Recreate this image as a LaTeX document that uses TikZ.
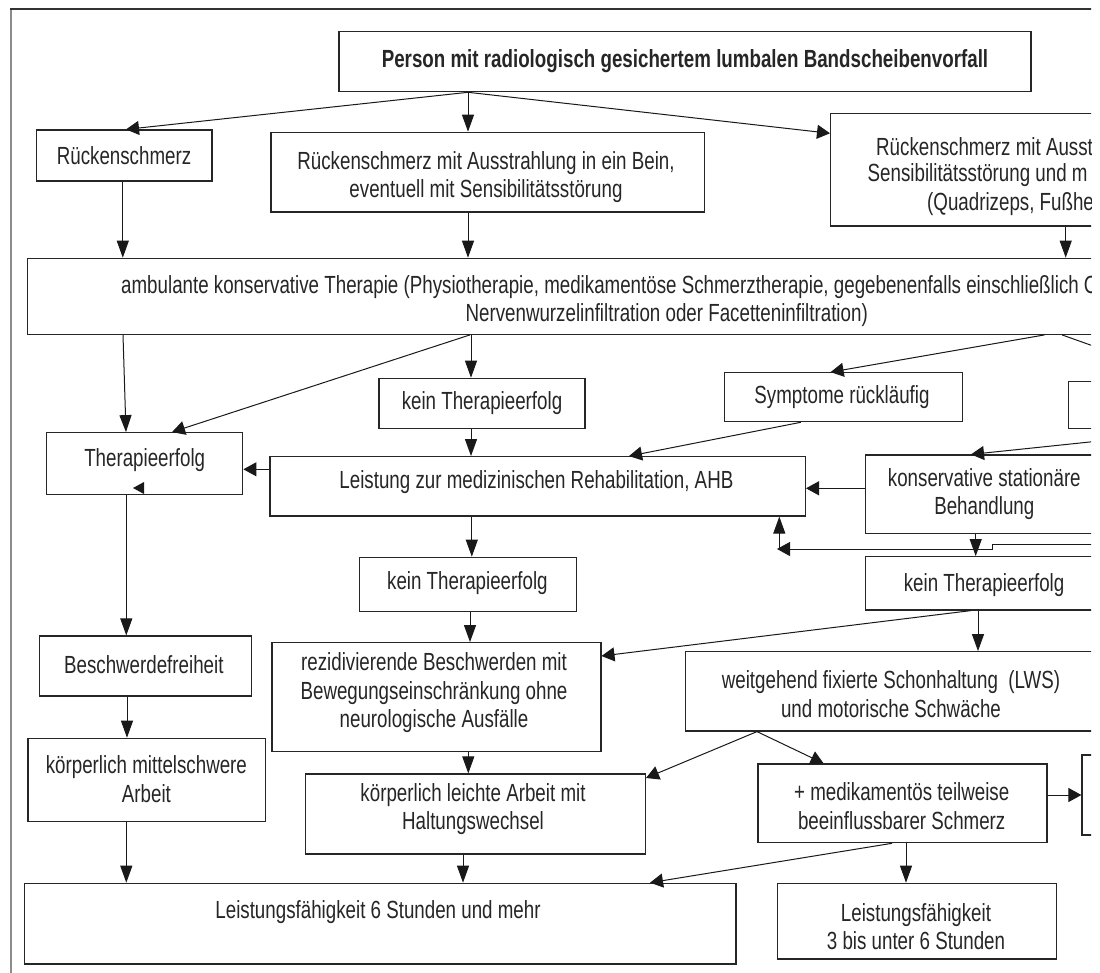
\documentclass[tikz,border=0pt]{standalone}
\usepackage{fontspec}
\setmainfont[FakeStretch=0.756]{Liberation Sans}
\usetikzlibrary{arrows.meta}
\newcommand{\mybox}[5]{\node[box,minimum width={#4-#2},minimum height={#5-#3}] (#1) at ({(#2+#4)/2},{(#3+#5)/2}) {};}
\begin{document}
\begin{tikzpicture}[x=1pt,y=-1pt,
  box/.style={draw=black!85, line width=1.2pt, inner sep=0pt},
  txt/.style={inner sep=0pt, align=center, text=black!85, font=\fontsize{24.8}{28.5}\selectfont},
  conn/.style={draw=black!90, line width=1pt},
  av/.style={conn, -{Triangle[length=17pt,width=12pt]}},
  ah/.style={conn, -{Triangle[length=13pt,width=14pt]}}]
\useasboundingbox (0,0) rectangle (1100,973);
\fill[white] (0,0) rectangle (1100,973);
\begin{scope}
\clip (0,0) rectangle (1091,973);
% frame
\draw[black!45, line width=2.5pt] (11,973) -- (11,9);
\draw[black!80, line width=2pt] (10,9) -- (1100,9);
% boxes
\mybox{title}{339}{31.7}{1031}{91.7}
\mybox{rs}{36.1}{130}{211.9}{181}
\mybox{rsa}{271}{132.3}{704.4}{212}
\mybox{rsr}{830.6}{113.3}{1300}{226}
\mybox{amb}{27.4}{258.3}{1306}{334.3}
\mybox{k1}{378.9}{378.3}{585}{428.3}
\mybox{sym}{724.3}{372.7}{962.2}{421.7}
\mybox{cuta}{1068.5}{381.7}{1300}{428.3}
\mybox{te}{46.7}{432.7}{242.8}{494.3}
\mybox{lz}{270}{456.7}{805.4}{516}
\mybox{ksb}{865.7}{455}{1103}{533.3}
\mybox{km}{359.6}{557.3}{576.3}{611.7}
\mybox{kr}{865.7}{556.7}{1103}{610}
\mybox{bf}{39.6}{636}{251.2}{696}
\mybox{rez}{271.9}{642.7}{600.9}{751.7}
\mybox{wf}{685.8}{651.7}{1096.2}{731}
\mybox{mit}{28}{738.3}{265.2}{821.7}
\mybox{leicht}{305.2}{774}{645.4}{854}
\mybox{med}{758}{764}{1047}{842.7}
\mybox{cutb}{1082}{755}{1300}{835}
\mybox{lsechs}{24.6}{883.3}{736}{964}
\mybox{ldrei}{777.3}{883.3}{1056.2}{959}
% texts
\node[txt,font=\fontsize{24.8}{28.5}\selectfont\bfseries] (title-t) at (685,61) {Person mit radiologisch gesichertem lumbalen Bandscheibenvorfall};
\node[txt] (rs-t) at (124,155.5) {Rückenschmerz};
\node[txt] (rsa-t) at (486,177) {Rückenschmerz mit Ausstrahlung in ein Bein,\\eventuell mit Sensibilitätsstörung};
\node[txt,anchor=west] (rsr-t1) at (876,147) {Rückenschmerz mit Ausst};
\node[txt,anchor=west] (rsr-t2) at (867.5,175.5) {Sensibilitätsstörung und m};
\node[txt,anchor=west] (rsr-t3) at (927,204) {(Quadrizeps, Fußhe};
\node[txt,anchor=west] (amb-t1) at (121,286.7) {ambulante konservative Therapie (Physiotherapie, medikamentöse Schmerztherapie, gegebenenfalls einschließlich C};
\node[txt] (amb-t2) at (666.7,315) {Nervenwurzelinfiltration oder Facetteninfiltration)};
\node[txt] (k1-t) at (482,403.3) {kein Therapieerfolg};
\node[txt] (sym-t) at (842,397) {Symptome rückläufig};
\node[txt] (te-t) at (144.7,460) {Therapieerfolg};
\node[txt] (lz-t) at (536.4,481.7) {Leistung zur medizinischen Rehabilitation, AHB};
\node[txt] (ksb-t) at (984.3,494) {konservative stationäre\\Behandlung};
\node[txt] (km-t) at (467.4,583.3) {kein Therapieerfolg};
\node[txt] (kr-t) at (984.1,585) {kein Therapieerfolg};
\node[txt] (bf-t) at (143.8,665) {Beschwerdefreiheit};
\node[txt] (rez-t) at (434,693) {rezidivierende Beschwerden mit\\Bewegungseinschränkung ohne\\neurologische Ausfälle};
\node[txt] (wf-t) at (891,694) {weitgehend fixierte Schonhaltung\ \ (LWS)\\und motorische Schwäche};
\node[txt] (mit-t) at (146.4,779) {körperlich mittelschwere\\Arbeit};
\node[txt] (leicht-t) at (473,809) {körperlich leichte Arbeit mit\\Haltungswechsel};
\node[txt] (med-t) at (901.7,806) {+ medikamentös teilweise\\beeinflussbarer Schmerz};
\node[txt] (lsechs-t) at (378,912) {Leistungsfähigkeit 6 Stunden und mehr};
\node[txt] (ldrei-t) at (916,926.7) {Leistungsfähigkeit\\3 bis unter 6 Stunden};
% free ends
\coordinate (offA) at (1200,384);
\coordinate (offB) at (1200,430.5);
\coordinate (offC) at (1200,544);
\coordinate (jog1) at (992,544);
\coordinate (jog2) at (992,549);
\coordinate (dbl) at (779.3,549);
% connectors
\draw[ah] (468,0 |- title.south) -- (126,0 |- rs.north);
\draw[av] (468,0 |- title.south) -- (468,0 |- rsa.north);
\draw[ah] (468,0 |- title.south) -- (rsr.west |- 0,133.3);
\draw[av] (122.8,0 |- rs.south) -- (122.8,0 |- amb.north);
\draw[av] (468,0 |- rsa.south) -- (468,0 |- amb.north);
\draw[av] (1065.7,0 |- rsr.south) -- (1065.7,0 |- amb.north);
\draw[av] (123,0 |- amb.south) -- (126,0 |- te.north);
\draw[ah] (470,0 |- amb.south) -- (172,0 |- te.north);
\draw[av] (471,0 |- amb.south) -- (471,0 |- k1.north);
\draw[ah] (1044.6,0 |- amb.south) -- (830.6,0 |- sym.north);
\draw[conn] (1062,0 |- amb.south) -- (offA);
\draw[av] (471,0 |- k1.south) -- (471,0 |- lz.north);
\draw[ah] (800.8,0 |- sym.south) -- (629,0 |- lz.north);
\draw[ah] (lz.west |- 0,469.3) -- (te.east |- 0,469.3);
\draw[ah] (offB) -- (971,0 |- ksb.north);
\draw[ah] (ksb.west |- 0,488.3) -- (lz.east |- 0,488.3);
\draw[av] (975.7,0 |- ksb.south) -- (975.7,0 |- kr.north);
\draw[ah] (offC) -- (jog1) -- (jog2) -- (777,549);
\draw[av] (dbl) -- (779.3,0 |- lz.south);
\draw[av] (126.3,0 |- te.south) -- (126.3,0 |- bf.north);
\draw[av] (471.8,0 |- lz.south) -- (471.8,0 |- km.north);
\draw[av] (470,0 |- km.south) -- (470,0 |- rez.north);
\draw[ah] (971,0 |- kr.south) -- (rez.east |- 0,656);
\draw[av] (978,0 |- kr.south) -- (978,0 |- wf.north);
\draw[av] (127,0 |- bf.south) -- (127,0 |- mit.north);
\draw[av] (468.3,0 |- rez.south) -- (468.3,0 |- leicht.north);
\draw[ah] (757,0 |- wf.south) -- (leicht.east |- 0,778);
\draw[ah] (757,0 |- wf.south) -- (823.6,0 |- med.north);
\draw[av] (126.3,0 |- mit.south) -- (126.3,0 |- lsechs.north);
\draw[av] (463,0 |- leicht.south) -- (463,0 |- lsechs.north);
\draw[ah] (med.east |- 0,795) -- (cutb.west |- 0,795);
\draw[av] (906,0 |- med.south) -- (906,0 |- ldrei.north);
\draw[ah] (892,0 |- med.south) -- (650,0 |- lsechs.north);
% stray arrowhead at Therapieerfolg
\fill[black!90] (133,488) -- (144,482) -- (144,494) -- cycle;
\end{scope}
\end{tikzpicture}
\end{document}
